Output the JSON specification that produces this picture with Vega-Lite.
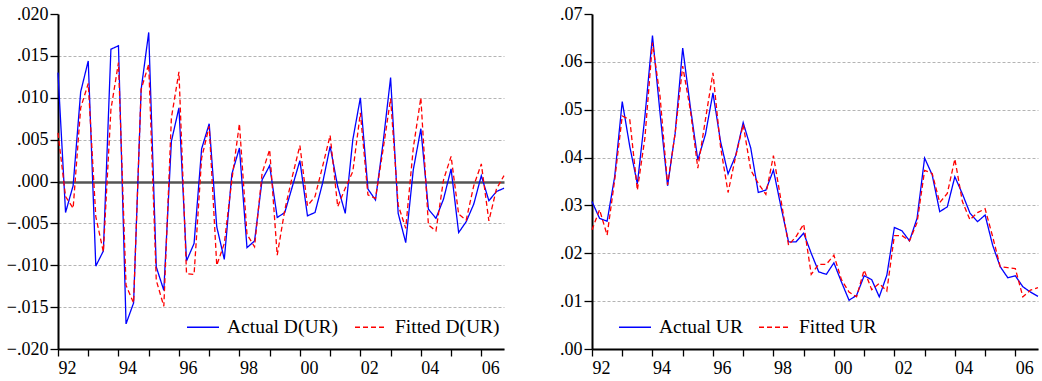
{
  "$schema": "https://vega.github.io/schema/vega-lite/v6.json",
  "background": "white",
  "padding": {"left": 6, "top": 5, "right": 2, "bottom": 2},
  "resolve": {
    "scale": {"color": "independent", "strokeDash": "independent", "y": "independent"},
    "legend": {"color": "independent", "strokeDash": "independent"}
  },
  "config": {
    "font": "Liberation Serif",
    "view": {"stroke": null},
    "concat": {"spacing": 52},
    "axis": {
      "title": null,
      "labelFont": "Liberation Serif",
      "labelFontSize": 18,
      "labelColor": "black",
      "domainColor": "black",
      "domainWidth": 2,
      "tickColor": "black",
      "tickWidth": 1.3,
      "labelOverlap": false,
      "labelFlush": false
    },
    "legend": {
      "orient": "none",
      "direction": "horizontal",
      "title": null,
      "symbolType": "stroke",
      "symbolSize": 1024,
      "symbolStrokeWidth": 1.3,
      "labelFont": "Liberation Serif",
      "labelFontSize": 19.5,
      "labelColor": "black",
      "columnPadding": 13,
      "labelOffset": 7,
      "padding": 0
    }
  },
  "datasets": {
    "quarterly": [
      {"t": 1992.00, "Actual UR": 0.0308, "Fitted UR": 0.0249, "Actual D(UR)": 0.0130, "Fitted D(UR)": 0.0058},
      {"t": 1992.25, "Actual UR": 0.0273, "Fitted UR": 0.0291, "Actual D(UR)": -0.0037, "Fitted D(UR)": -0.0018},
      {"t": 1992.50, "Actual UR": 0.0267, "Fitted UR": 0.0238, "Actual D(UR)": -0.0005, "Fitted D(UR)": -0.0032},
      {"t": 1992.75, "Actual UR": 0.0360, "Fitted UR": 0.0353, "Actual D(UR)": 0.0107, "Fitted D(UR)": 0.0088},
      {"t": 1993.00, "Actual UR": 0.0517, "Fitted UR": 0.0487, "Actual D(UR)": 0.0144, "Fitted D(UR)": 0.0117},
      {"t": 1993.25, "Actual UR": 0.0423, "Fitted UR": 0.0479, "Actual D(UR)": -0.0101, "Fitted D(UR)": -0.0042},
      {"t": 1993.50, "Actual UR": 0.0345, "Fitted UR": 0.0332, "Actual D(UR)": -0.0083, "Fitted D(UR)": -0.0084},
      {"t": 1993.75, "Actual UR": 0.0486, "Fitted UR": 0.0441, "Actual D(UR)": 0.0158, "Fitted D(UR)": 0.0086},
      {"t": 1994.00, "Actual UR": 0.0655, "Fitted UR": 0.0640, "Actual D(UR)": 0.0162, "Fitted D(UR)": 0.0142},
      {"t": 1994.25, "Actual UR": 0.0493, "Fitted UR": 0.0528, "Actual D(UR)": -0.0170, "Fitted D(UR)": -0.0124},
      {"t": 1994.50, "Actual UR": 0.0341, "Fitted UR": 0.0343, "Actual D(UR)": -0.0145, "Fitted D(UR)": -0.0145},
      {"t": 1994.75, "Actual UR": 0.0451, "Fitted UR": 0.0451, "Actual D(UR)": 0.0110, "Fitted D(UR)": 0.0110},
      {"t": 1995.00, "Actual UR": 0.0629, "Fitted UR": 0.0591, "Actual D(UR)": 0.0178, "Fitted D(UR)": 0.0140},
      {"t": 1995.25, "Actual UR": 0.0507, "Fitted UR": 0.0500, "Actual D(UR)": -0.0102, "Fitted D(UR)": -0.0118},
      {"t": 1995.50, "Actual UR": 0.0395, "Fitted UR": 0.0378, "Actual D(UR)": -0.0130, "Fitted D(UR)": -0.0149},
      {"t": 1995.75, "Actual UR": 0.0448, "Fitted UR": 0.0479, "Actual D(UR)": 0.0048, "Fitted D(UR)": 0.0076},
      {"t": 1996.00, "Actual UR": 0.0535, "Fitted UR": 0.0577, "Actual D(UR)": 0.0088, "Fitted D(UR)": 0.0131},
      {"t": 1996.25, "Actual UR": 0.0434, "Fitted UR": 0.0423, "Actual D(UR)": -0.0095, "Fitted D(UR)": -0.0110},
      {"t": 1996.50, "Actual UR": 0.0366, "Fitted UR": 0.0327, "Actual D(UR)": -0.0074, "Fitted D(UR)": -0.0111},
      {"t": 1996.75, "Actual UR": 0.0404, "Fitted UR": 0.0402, "Actual D(UR)": 0.0039, "Fitted D(UR)": 0.0028},
      {"t": 1997.00, "Actual UR": 0.0473, "Fitted UR": 0.0469, "Actual D(UR)": 0.0069, "Fitted D(UR)": 0.0066},
      {"t": 1997.25, "Actual UR": 0.0420, "Fitted UR": 0.0374, "Actual D(UR)": -0.0054, "Fitted D(UR)": -0.0100},
      {"t": 1997.50, "Actual UR": 0.0327, "Fitted UR": 0.0346, "Actual D(UR)": -0.0093, "Fitted D(UR)": -0.0074},
      {"t": 1997.75, "Actual UR": 0.0332, "Fitted UR": 0.0323, "Actual D(UR)": 0.0009, "Fitted D(UR)": 0.0002},
      {"t": 1998.00, "Actual UR": 0.0374, "Fitted UR": 0.0404, "Actual D(UR)": 0.0040, "Fitted D(UR)": 0.0069},
      {"t": 1998.25, "Actual UR": 0.0297, "Fitted UR": 0.0311, "Actual D(UR)": -0.0079, "Fitted D(UR)": -0.0063},
      {"t": 1998.50, "Actual UR": 0.0224, "Fitted UR": 0.0217, "Actual D(UR)": -0.0071, "Fitted D(UR)": -0.0078},
      {"t": 1998.75, "Actual UR": 0.0224, "Fitted UR": 0.0235, "Actual D(UR)": 0.0002, "Fitted D(UR)": 0.0010},
      {"t": 1999.00, "Actual UR": 0.0242, "Fitted UR": 0.0261, "Actual D(UR)": 0.0019, "Fitted D(UR)": 0.0038},
      {"t": 1999.25, "Actual UR": 0.0200, "Fitted UR": 0.0156, "Actual D(UR)": -0.0043, "Fitted D(UR)": -0.0088},
      {"t": 1999.50, "Actual UR": 0.0161, "Fitted UR": 0.0177, "Actual D(UR)": -0.0037, "Fitted D(UR)": -0.0034},
      {"t": 1999.75, "Actual UR": 0.0156, "Fitted UR": 0.0177, "Actual D(UR)": -0.0006, "Fitted D(UR)": 0.0006},
      {"t": 2000.00, "Actual UR": 0.0180, "Fitted UR": 0.0196, "Actual D(UR)": 0.0025, "Fitted D(UR)": 0.0043},
      {"t": 2000.25, "Actual UR": 0.0140, "Fitted UR": 0.0145, "Actual D(UR)": -0.0041, "Fitted D(UR)": -0.0029},
      {"t": 2000.50, "Actual UR": 0.0102, "Fitted UR": 0.0119, "Actual D(UR)": -0.0037, "Fitted D(UR)": -0.0018},
      {"t": 2000.75, "Actual UR": 0.0112, "Fitted UR": 0.0109, "Actual D(UR)": -0.0002, "Fitted D(UR)": 0.0018},
      {"t": 2001.00, "Actual UR": 0.0153, "Fitted UR": 0.0165, "Actual D(UR)": 0.0042, "Fitted D(UR)": 0.0055},
      {"t": 2001.25, "Actual UR": 0.0145, "Fitted UR": 0.0124, "Actual D(UR)": -0.0006, "Fitted D(UR)": -0.0030},
      {"t": 2001.50, "Actual UR": 0.0109, "Fitted UR": 0.0137, "Actual D(UR)": -0.0038, "Fitted D(UR)": -0.0008},
      {"t": 2001.75, "Actual UR": 0.0154, "Fitted UR": 0.0121, "Actual D(UR)": 0.0050, "Fitted D(UR)": 0.0012},
      {"t": 2002.00, "Actual UR": 0.0254, "Fitted UR": 0.0237, "Actual D(UR)": 0.0100, "Fitted D(UR)": 0.0082},
      {"t": 2002.25, "Actual UR": 0.0247, "Fitted UR": 0.0237, "Actual D(UR)": -0.0009, "Fitted D(UR)": -0.0016},
      {"t": 2002.50, "Actual UR": 0.0226, "Fitted UR": 0.0226, "Actual D(UR)": -0.0022, "Fitted D(UR)": -0.0020},
      {"t": 2002.75, "Actual UR": 0.0273, "Fitted UR": 0.0264, "Actual D(UR)": 0.0046, "Fitted D(UR)": 0.0038},
      {"t": 2003.00, "Actual UR": 0.0399, "Fitted UR": 0.0373, "Actual D(UR)": 0.0124, "Fitted D(UR)": 0.0099},
      {"t": 2003.25, "Actual UR": 0.0364, "Fitted UR": 0.0367, "Actual D(UR)": -0.0038, "Fitted D(UR)": -0.0028},
      {"t": 2003.50, "Actual UR": 0.0287, "Fitted UR": 0.0306, "Actual D(UR)": -0.0073, "Fitted D(UR)": -0.0056},
      {"t": 2003.75, "Actual UR": 0.0297, "Fitted UR": 0.0325, "Actual D(UR)": 0.0014, "Fitted D(UR)": 0.0040},
      {"t": 2004.00, "Actual UR": 0.0360, "Fitted UR": 0.0397, "Actual D(UR)": 0.0063, "Fitted D(UR)": 0.0100},
      {"t": 2004.25, "Actual UR": 0.0324, "Fitted UR": 0.0308, "Actual D(UR)": -0.0033, "Fitted D(UR)": -0.0052},
      {"t": 2004.50, "Actual UR": 0.0284, "Fitted UR": 0.0270, "Actual D(UR)": -0.0044, "Fitted D(UR)": -0.0059},
      {"t": 2004.75, "Actual UR": 0.0266, "Fitted UR": 0.0285, "Actual D(UR)": -0.0021, "Fitted D(UR)": 0.0002},
      {"t": 2005.00, "Actual UR": 0.0280, "Fitted UR": 0.0293, "Actual D(UR)": 0.0015, "Fitted D(UR)": 0.0030},
      {"t": 2005.25, "Actual UR": 0.0217, "Fitted UR": 0.0235, "Actual D(UR)": -0.0061, "Fitted D(UR)": -0.0039},
      {"t": 2005.50, "Actual UR": 0.0172, "Fitted UR": 0.0172, "Actual D(UR)": -0.0048, "Fitted D(UR)": -0.0046},
      {"t": 2005.75, "Actual UR": 0.0149, "Fitted UR": 0.0170, "Actual D(UR)": -0.0027, "Fitted D(UR)": -0.0005},
      {"t": 2006.00, "Actual UR": 0.0153, "Fitted UR": 0.0168, "Actual D(UR)": 0.0007, "Fitted D(UR)": 0.0021},
      {"t": 2006.25, "Actual UR": 0.0130, "Fitted UR": 0.0109, "Actual D(UR)": -0.0023, "Fitted D(UR)": -0.0047},
      {"t": 2006.50, "Actual UR": 0.0119, "Fitted UR": 0.0123, "Actual D(UR)": -0.0012, "Fitted D(UR)": -0.0009},
      {"t": 2006.75, "Actual UR": 0.0110, "Fitted UR": 0.0128, "Actual D(UR)": -0.0008, "Fitted D(UR)": 0.0007}
    ]
  },
  "hconcat": [
    {
      "width": 446,
      "height": 335,
      "data": {"name": "quarterly"},
      "transform": [{"fold": ["Actual D(UR)", "Fitted D(UR)"], "as": ["series", "value"]}],
      "mark": {"type": "line", "strokeWidth": 1.3},
      "encoding": {
        "x": {
          "field": "t",
          "type": "quantitative",
          "scale": {"domain": [1992, 2006.75], "nice": false, "zero": false},
          "axis": {
            "values": [1992, 1993, 1994, 1995, 1996, 1997, 1998, 1999, 2000, 2001, 2002, 2003, 2004, 2005, 2006],
            "labelExpr": "datum.value % 2 === 0 ? substring(toString(datum.value), 2, 4) : ''",
            "grid": false,
            "tickSize": 7,
            "labelAlign": "left",
            "labelPadding": 3
          }
        },
        "y": {
          "field": "value",
          "type": "quantitative",
          "scale": {"domain": [-0.02, 0.02], "nice": false, "zero": false},
          "axis": {
            "values": [-0.02, -0.015, -0.01, -0.005, 0, 0.005, 0.01, 0.015, 0.02],
            "labelExpr": "replace(format(datum.value, '.3f'), '0.', '.')",
            "tickSize": 8,
            "labelPadding": 2,
            "grid": true,
            "gridColor": {"condition": {"test": "datum.value === 0", "value": "#555555"}, "value": "#b4b4b4"},
            "gridDash": {"condition": {"test": "datum.value === 0", "value": []}, "value": [3, 2]},
            "gridWidth": {"condition": {"test": "datum.value === 0", "value": 2.5}, "value": 1},
            "gridOpacity": {"condition": {"test": "datum.value > 0.0199", "value": 0}, "value": 1}
          }
        },
        "color": {
          "field": "series",
          "type": "nominal",
          "scale": {"domain": ["Actual D(UR)", "Fitted D(UR)"], "range": ["#0000ff", "#ff0000"]},
          "legend": {"orient": "none", "legendX": 128, "legendY": 296, "direction": "horizontal", "title": null}
        },
        "strokeDash": {
          "field": "series",
          "type": "nominal",
          "scale": {"domain": ["Actual D(UR)", "Fitted D(UR)"], "range": [[1, 0], [5, 3]]},
          "legend": {"orient": "none", "legendX": 128, "legendY": 296, "direction": "horizontal", "title": null}
        }
      }
    },
    {
      "width": 446,
      "height": 335,
      "data": {"name": "quarterly"},
      "transform": [{"fold": ["Actual UR", "Fitted UR"], "as": ["series", "value"]}],
      "mark": {"type": "line", "strokeWidth": 1.3},
      "encoding": {
        "x": {
          "field": "t",
          "type": "quantitative",
          "scale": {"domain": [1992, 2006.75], "nice": false, "zero": false},
          "axis": {
            "values": [1992, 1993, 1994, 1995, 1996, 1997, 1998, 1999, 2000, 2001, 2002, 2003, 2004, 2005, 2006],
            "labelExpr": "datum.value % 2 === 0 ? substring(toString(datum.value), 2, 4) : ''",
            "grid": false,
            "tickSize": 7,
            "labelAlign": "left",
            "labelPadding": 3
          }
        },
        "y": {
          "field": "value",
          "type": "quantitative",
          "scale": {"domain": [0, 0.07], "nice": false, "zero": false},
          "axis": {
            "values": [0, 0.01, 0.02, 0.03, 0.04, 0.05, 0.06, 0.07],
            "labelExpr": "replace(format(datum.value, '.2f'), '0.', '.')",
            "tickSize": 8,
            "labelPadding": 2,
            "grid": true,
            "gridColor": "#b4b4b4",
            "gridDash": [3, 2],
            "gridWidth": 1,
            "gridOpacity": {"condition": {"test": "datum.value > 0.0699", "value": 0}, "value": 1}
          }
        },
        "color": {
          "field": "series",
          "type": "nominal",
          "scale": {"domain": ["Actual UR", "Fitted UR"], "range": ["#0000ff", "#ff0000"]},
          "legend": {"orient": "none", "legendX": 26, "legendY": 296, "direction": "horizontal", "title": null}
        },
        "strokeDash": {
          "field": "series",
          "type": "nominal",
          "scale": {"domain": ["Actual UR", "Fitted UR"], "range": [[1, 0], [5, 3]]},
          "legend": {"orient": "none", "legendX": 26, "legendY": 296, "direction": "horizontal", "title": null}
        }
      }
    }
  ]
}
